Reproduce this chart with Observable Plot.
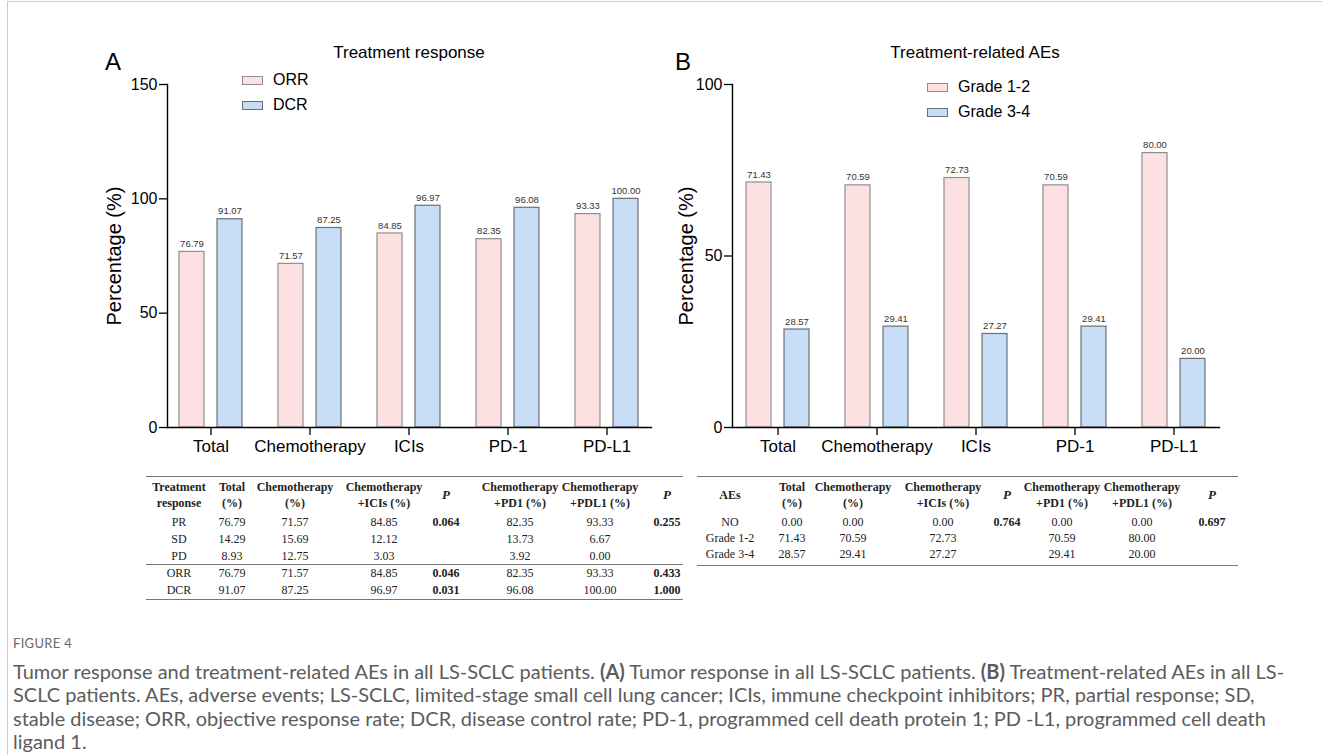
<!DOCTYPE html>
<html><head><meta charset="utf-8">
<script src="https://cdn.jsdelivr.net/npm/d3@7"></script>
<script src="https://cdn.jsdelivr.net/npm/@observablehq/plot@0.6"></script>
<style>
body{margin:0;background:#fff;}
#root{position:relative;width:1322px;height:755px;overflow:hidden;font-family:"Liberation Sans",Arial,sans-serif;color:#000;}
.abs{position:absolute;white-space:nowrap;}
.c{transform:translate(-50%,-50%);text-align:center;}
.l{transform:translate(0,-50%);}
.tbl{font-family:"Liberation Serif","Times New Roman",serif;font-size:12px;color:#222;line-height:16px;}
.hd{font-weight:bold;}
.pv{font-weight:bold;}
.rule{position:absolute;height:0;border-top:1.5px solid #777;}
.sw{position:absolute;width:19px;height:7px;border:1px solid #888;}
.cap{font-family:Lato,"Open Sans",sans-serif;color:#5c5c5c;}
svg{position:absolute;top:0;}
</style></head><body><div id="root"></div>
<script>
// ---------- data ----------
const categories = ["Total", "Chemotherapy", "ICIs", "PD-1", "PD-L1"];
const orr = [76.79, 71.57, 84.85, 82.35, 93.33];
const dcr = [91.07, 87.25, 96.97, 96.08, 100.00];
const grade12 = [71.43, 70.59, 72.73, 70.59, 80.00];
const grade34 = [28.57, 29.41, 27.27, 29.41, 20.00];
const yTicksA = [0, 50, 100, 150];
const yTicksB = [0, 50, 100];

const respHeader = [["Treatment", "response"], ["Total", "(%)"], ["Chemotherapy", "(%)"], ["Chemotherapy", "+ICIs (%)"], ["P"], ["Chemotherapy", "+PD1 (%)"], ["Chemotherapy", "+PDL1 (%)"], ["P"]];
const respRows = ["PR", "SD", "PD", "ORR", "DCR"];
const respTotal = ["76.79", "14.29", "8.93", "76.79", "91.07"];
const respChemo = ["71.57", "15.69", "12.75", "71.57", "87.25"];
const respICIs = ["84.85", "12.12", "3.03", "84.85", "96.97"];
const respP1 = ["0.064", "", "", "0.046", "0.031"];
const respPD1 = ["82.35", "13.73", "3.92", "82.35", "96.08"];
const respPDL1 = ["93.33", "6.67", "0.00", "93.33", "100.00"];
const respP2 = ["0.255", "", "", "0.433", "1.000"];

const aeHeader = [["AEs"], ["Total", "(%)"], ["Chemotherapy", "(%)"], ["Chemotherapy", "+ICIs (%)"], ["P"], ["Chemotherapy", "+PD1 (%)"], ["Chemotherapy", "+PDL1 (%)"], ["P"]];
const aeRows = ["NO", "Grade 1-2", "Grade 3-4"];
const aeTotal = ["0.00", "71.43", "28.57"];
const aeChemo = ["0.00", "70.59", "29.41"];
const aeICIs = ["0.00", "72.73", "27.27"];
const aeP1 = ["0.764", "", ""];
const aePD1 = ["0.00", "70.59", "29.41"];
const aePDL1 = ["0.00", "80.00", "20.00"];
const aeP2 = ["0.697", "", ""];

const captionLines = [
  "Tumor response and treatment-related AEs in all LS-SCLC patients. <b>(A)</b> Tumor response in all LS-SCLC patients. <b>(B)</b> Treatment-related AEs in all LS-",
  "SCLC patients. AEs, adverse events; LS-SCLC, limited-stage small cell lung cancer; ICIs, immune checkpoint inhibitors; PR, partial response; SD,",
  "stable disease; ORR, objective response rate; DCR, disease control rate; PD-1, programmed cell death protein 1; PD -L1, programmed cell death",
  "ligand 1."
];

// ---------- styles ----------
const pink = "#fde1e2", pinkStroke = "#8e8e8e";
const blue = "#c7dcf5", blueStroke = "#6b6f76";

const root = document.getElementById("root");
function place(html, x, y, cls, css) {
  const d = document.createElement("div");
  d.className = "abs " + (cls || "");
  d.style.left = x + "px"; d.style.top = y + "px";
  if (css) d.style.cssText += css;
  d.innerHTML = html;
  root.appendChild(d);
  return d;
}

function chart(o) {
  const d1 = categories.map((c, i) => ({cat: c, v: o.s1[i]}));
  const d2 = categories.map((c, i) => ({cat: c, v: o.s2[i]}));
  const svg = Plot.plot({
    width: o.width, height: o.height,
    marginLeft: o.mL, marginRight: o.mR, marginTop: o.mT, marginBottom: o.mB,
    style: {fontFamily: "'Liberation Sans', Arial, sans-serif", color: "#000", background: "transparent", overflow: "visible"},
    x: {domain: categories, range: o.xRange, padding: 0},
    y: {domain: [0, o.yMax]},
    marks: [
      Plot.barY(d1, {x: "cat", y: "v", fill: pink, stroke: pinkStroke, strokeWidth: 1.2, insetLeft: 18, insetRight: 56}),
      Plot.barY(d2, {x: "cat", y: "v", fill: blue, stroke: blueStroke, strokeWidth: 1.2, insetLeft: 56, insetRight: 18}),
      Plot.text(d1, {x: "cat", y: "v", text: d => d.v.toFixed(2), dx: -19, dy: -8, fontSize: 9.5, fill: "#333"}),
      Plot.text(d2, {x: "cat", y: "v", text: d => d.v.toFixed(2), dx: 19, dy: -8, fontSize: 9.5, fill: "#333"}),
      Plot.axisY({ticks: o.yTicks, tickSize: 8, tickPadding: 2, fontSize: 16, label: null, strokeWidth: 1.3}),
      Plot.axisX({tickSize: 8, tickPadding: 4, fontSize: 17, label: null, strokeWidth: 1.3}),
      Plot.frame({anchor: "left", strokeWidth: 1.4}),
      Plot.frame({anchor: "bottom", strokeWidth: 1.4})
    ]
  });
  svg.style.left = o.left + "px";
  root.appendChild(svg);
}

// border of the figure box
place("", 7, 1, "", "width:1315px;height:760px;border-left:1px solid #ccc;border-top:1px solid #ccc;");

chart({s1: orr, s2: dcr, yMax: 150, yTicks: yTicksA, left: 0, width: 680, height: 470,
  mL: 167, mR: 29, mT: 84, mB: 43, xRange: [161, 656]});
chart({s1: grade12, s2: grade34, yMax: 100, yTicks: yTicksB, left: 660, width: 662, height: 470,
  mL: 72, mR: 103, mT: 84, mB: 43, xRange: [68, 563.5]});

// panel letters, titles, y labels
place("A", 105, 62, "l", "font-size:24px;");
place("B", 675, 62, "l", "font-size:24px;");
place("Treatment response", 409, 53, "c", "font-size:17px;");
place("Treatment-related AEs", 975, 53, "c", "font-size:17px;");
place("Percentage (%)", 114, 256, "c", "font-size:20px;transform:translate(-50%,-50%) rotate(-90deg);");
place("Percentage (%)", 686, 256, "c", "font-size:20px;transform:translate(-50%,-50%) rotate(-90deg);");

// legends
function legend(items, x, y0, step) {
  items.forEach((it, i) => {
    const y = y0 + i * step;
    place("", x, y - 4.5, "sw", "background:" + it.fill + ";border-color:" + it.stroke + ";");
    place(it.label, x + 31, y, "l", "font-size:16px;");
  });
}
legend([{label: "ORR", fill: pink, stroke: pinkStroke}, {label: "DCR", fill: blue, stroke: blueStroke}], 242, 80, 25);
legend([{label: "Grade 1-2", fill: pink, stroke: pinkStroke}, {label: "Grade 3-4", fill: blue, stroke: blueStroke}], 927, 87, 25);

// tables
function table(t) {
  const cols = [t.rows, t.total, t.chemo, t.icis, t.p1, t.pd1, t.pdl1, t.p2];
  place("", t.x0, t.top, "rule", "width:" + (t.x1 - t.x0) + "px;");
  t.header.forEach((h, j) => {
    const x = t.cx[j];
    const txt = h.join("<br>");
    const isP = h.length === 1 && h[0] === "P";
    place(isP ? "<i>P</i>" : txt, x, t.hy, "c tbl hd", isP ? "font-size:13px;" : "");
  });
  t.rows.forEach((r, i) => {
    const y = t.ry[i];
    cols.forEach((col, j) => {
      if (!col[i]) return;
      const pcls = (j === 4 || j === 7) ? " pv" : "";
      place(col[i], t.cx[j], y, "c tbl" + pcls);
    });
  });
  t.rules.forEach(y => place("", t.x0, y, "rule", "width:" + (t.x1 - t.x0) + "px;border-top-width:1.2px;"));
}
table({header: respHeader, rows: respRows, total: respTotal, chemo: respChemo, icis: respICIs, p1: respP1,
  pd1: respPD1, pdl1: respPDL1, p2: respP2,
  x0: 146, x1: 683, top: 476, hy: 495, cx: [179, 232, 295, 384, 446, 520, 600, 667],
  ry: [522, 539, 556, 573, 590], rules: [563.5, 599]});
table({header: aeHeader, rows: aeRows, total: aeTotal, chemo: aeChemo, icis: aeICIs, p1: aeP1,
  pd1: aePD1, pdl1: aePDL1, p2: aeP2,
  x0: 697, x1: 1238, top: 476, hy: 495, cx: [730, 792, 853, 943, 1007, 1062, 1142, 1212],
  ry: [522, 538, 554], rules: [565]});

// caption
place("FIGURE 4", 13, 643, "l cap", "font-size:13px;color:#6a6a6a;letter-spacing:0.3px;");
const capEls = captionLines.map((line, i) => place(line, 13, 671 + i * 23.3, "l cap", "font-size:17px;line-height:20px;"));
// fit the first caption line to the reference width
const w = capEls[0].getBoundingClientRect().width;
const fs = 17 * 1272 / w;
capEls.forEach(e => e.style.fontSize = fs + "px");
</script>
</body></html>
